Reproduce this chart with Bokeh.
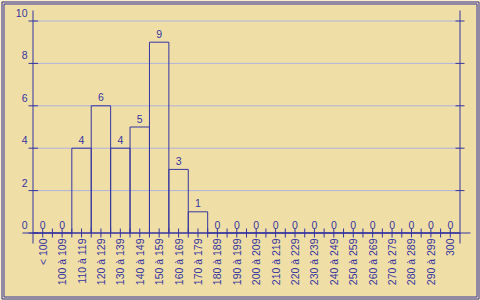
import math
from bokeh.plotting import figure
from bokeh.models import Range1d, ColumnDataSource
from bokeh.core.properties import value
from bokeh.embed import file_html
from bokeh.resources import INLINE

# ---- data ----
categories = ["< 100", "100 à 109", "110 à 119", "120 à 129", "130 à 139", "140 à 149",
              "150 à 159", "160 à 169", "170 à 179", "180 à 189", "190 à 199", "200 à 209",
              "210 à 219", "220 à 229", "230 à 239", "240 à 249", "250 à 259", "260 à 269",
              "270 à 279", "280 à 289", "290 à 299", "300"]
counts = [0, 0, 4, 6, 4, 5, 9, 3, 1, 0, 0, 0, 0, 0, 0, 0, 0, 0, 0, 0, 0, 0]
y_ticks = [0, 2, 4, 6, 8, 10]
y_tick_labels = ["0", "2", "4", "6", "8", "10"]

# ---- layout (pixels) ----
W, H = 480, 300
PL, PR = 32.5, 459.5      # left / right axis pixel columns
PB, PT = 232.5, 20.5      # y=0 and y=10 pixel rows
n = len(categories)
sx = (PR - PL) / n
sy = (PB - PT) / 10.0
x0 = -PL / sx
x1 = n + (W - PR) / sx
y1 = 10 + PT / sy
y0 = -(H - PB) / sy

def X(px):
    return (px - PL) / sx

def Y(py):
    return (PB - py) / sy

BLUE = "#35359f"
GRID = "#aeb3dc"
BG = "#f0dea7"
FONT = value("Liberation Sans")
FS = "10.5px"

p = figure(width=W, height=H, x_range=Range1d(x0, x1), y_range=Range1d(y0, y1),
           output_backend="svg", toolbar_location=None, min_border=0,
           x_axis_type=None, y_axis_type=None)
p.grid.visible = False
p.outline_line_color = None
p.background_fill_color = BG
p.border_fill_color = BG

# grid lines
p.segment(x0=[0] * 5, x1=[n] * 5, y0=y_ticks[1:], y1=y_ticks[1:], line_color=GRID, line_width=1)

# bars (outlined)
src = ColumnDataSource(dict(left=list(range(n)), right=[i + 1 for i in range(n)],
                            top=counts, mid=[i + 0.5 for i in range(n)],
                            lab=[str(c) for c in counts], cat=categories))
p.quad(left="left", right="right", bottom=0, top="top", source=src,
       fill_color=None, line_color=BLUE, line_width=1)

# value labels
p.text(x="mid", y="top", text="lab", source=src, text_align="center",
       text_baseline="middle", y_offset=-8.5, text_color=BLUE,
       text_font=FONT, text_font_size=FS)

# left axis
p.segment(x0=[0], x1=[0], y0=[Y(243)], y1=[Y(10)], line_color=BLUE, line_width=1)
p.segment(x0=[X(28)] * 6, x1=[X(37.5)] * 6, y0=y_ticks, y1=y_ticks, line_color=BLUE)
p.text(x=[X(27)] * 6, y=y_ticks, text=y_tick_labels, text_align="right",
       text_baseline="middle", y_offset=-8, text_color=BLUE,
       text_font=FONT, text_font_size=FS)

# right axis
p.segment(x0=[n], x1=[n], y0=[Y(243)], y1=[Y(10)], line_color=BLUE, line_width=1)
p.segment(x0=[X(455)] * 5, x1=[X(464)] * 5, y0=y_ticks[1:], y1=y_ticks[1:], line_color=BLUE)

# x axis
p.segment(x0=[X(22)], x1=[X(470)], y0=[0], y1=[0], line_color=BLUE, line_width=1)
bx = list(range(1, n))
p.segment(x0=bx, x1=bx, y0=[Y(228)] * len(bx), y1=[Y(237)] * len(bx), line_color=BLUE)
cx = [i + 0.5 for i in range(n)]
p.segment(x0=cx, x1=cx, y0=[Y(228)] * n, y1=[Y(237)] * n, line_color=BLUE)
p.text(x="mid", y=0, text="cat", source=src, angle=math.pi / 2,
       text_align="right", text_baseline="middle", y_offset=5.5,
       text_color=BLUE, text_font=FONT, text_font_size=FS)

# double frame border
p.quad(left=[X(1.5), X(3.5)], right=[X(478.5), X(476.5)],
       top=[Y(1.5), Y(3.5)], bottom=[Y(298.5), Y(296.5)],
       fill_color=None, line_color=BLUE, line_width=1)

open("out.html", "w").write(file_html(p, INLINE))
